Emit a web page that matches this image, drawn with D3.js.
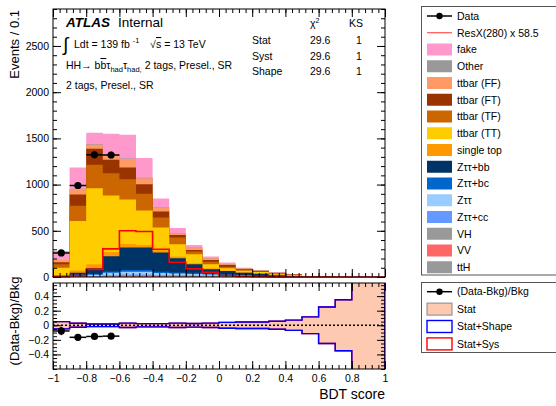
<!DOCTYPE html>
<html>
<head>
<meta charset="utf-8">
<script src="https://cdn.jsdelivr.net/npm/d3@7"></script>
<style>
body { margin: 0; background: #fff; }
svg { font-family: "Liberation Sans", Arial, Helvetica, sans-serif; }
</style>
</head>
<body>
<svg id="chart" width="556" height="406"></svg>
<script>
// bins of BDT score
const binLo = [-1, -0.9, -0.8, -0.7, -0.6, -0.5, -0.4, -0.3, -0.2, -0.1, 0, 0.1, 0.2, 0.3, 0.4, 0.5, 0.6, 0.7, 0.8, 0.9];
const binHi = [-0.9, -0.8, -0.7, -0.6, -0.5, -0.4, -0.3, -0.2, -0.1, 0, 0.1, 0.2, 0.3, 0.4, 0.5, 0.6, 0.7, 0.8, 0.9, 1];

// background components (events / bin)
const fake  = [97, 230, 125, 221, 258, 215, 95, 52, 27, 17, 16, 8, 3, 6, 2, 0.5, 0.5, 0, 0, 0];
const other = [2, 4, 7, 5, 5, 4, 3, 3, 2, 1, 2, 2, 4, 3, 2, 0.5, 0, 0, 0, 0];
const ttFF  = [24, 58, 43, 55, 91, 65, 43, 20, 25, 18, 8, 6, 4, 8, 3, 0.5, 0, 0, 0, 0];
const ttFT  = [21, 122, 172, 146, 128, 104, 65, 27, 18, 19, 18, 9, 5, 3, 2, 0.5, 0, 0, 0, 0];
const ttTF  = [37, 165, 255, 241, 219, 180, 108, 72, 29, 29, 18, 8, 6, 4, 4, 1, 0.5, 0.3, 0, 0];
const ttTT  = [79, 536, 823, 613, 481, 373, 246, 134, 98, 43, 25, 17, 16, 9, 9, 2, 1, 0.5, 0, 0];
const stop  = [8, 25, 43, 45, 40, 29, 24, 18, 11, 11, 5, 4, 3, 2, 2, 0.5, 0, 0, 0, 0];
const zbb   = [5, 20, 60, 165, 242, 242, 208, 153, 92, 45, 35, 25, 21, 10, 5, 0.5, 0.5, 0.2, 0, 0];
const zbc   = [2, 6, 10, 15, 20, 20, 16, 13, 12, 10, 7, 5, 3, 2, 1, 0, 0, 0, 0, 0];
const ztt   = [3, 10, 13, 25, 30, 30, 22, 19, 17, 14, 11, 8, 5, 3, 1, 0, 0, 0, 0, 0];
const zcc   = [2, 5, 6, 12, 15, 15, 10, 9, 8, 7, 5, 4, 2, 2, 1, 0, 0, 0, 0, 0];
const vh    = [0.5, 1, 1, 2, 3, 3, 3, 3, 2, 2, 2, 2, 1, 1, 0.5, 0, 0, 0, 0, 0];
const vv    = [1, 2, 2, 3, 4, 4, 4, 3, 3, 3, 2, 2, 2, 1, 0.5, 0, 0, 0, 0, 0];
const tth   = [0.5, 2, 2, 3, 4, 4, 3, 3, 3, 2, 2, 1, 1, 0, 0, 0, 0, 0, 0, 0];

// signal ResX(280) x 58.5
const signal = [3, 15, 83, 304, 500, 493, 300, 160, 88, 52, 16, 7, 3, 1, 0.5, 0, 0, 0, 0, 0];

// data (blinded beyond -0.6)
const dataBins = [0, 1, 2, 3];
const dataVals = [260, 990, 1322, 1320];

// relative uncertainty (half width) in ratio panel
const statUnc  = [0.05, 0.027, 0.018, 0.018, 0.03, 0.022, 0.022, 0.03, 0.025, 0.03, 0.04, 0.045, 0.045, 0.055, 0.07, 0.115, 0.25, 0.35, 5, 5];
const shapeUnc = [0.05, 0.027, 0.018, 0.018, 0.03, 0.022, 0.022, 0.03, 0.025, 0.03, 0.04, 0.045, 0.045, 0.055, 0.07, 0.115, 0.25, 0.35, 5, 5];
const sysUnc   = [0.05, 0.027, 0.018, 0.018, 0.03, 0.022, 0.022, 0.03, 0.025, 0.03, 0.04, 0.045, 0.045, 0.055, 0.07, 0.115, 0.25, 0.35, 5, 5];

// tick labels
const xLabels = [-1, -0.8, -0.6, -0.4, -0.2, 0, 0.2, 0.4, 0.6, 0.8, 1];
const yTopLabels = [0, 500, 1000, 1500, 2000, 2500];
const yLowLabels = [-0.4, -0.2, 0, 0.2, 0.4];

const legendNames = ["fake", "Other", "ttbar (FF)", "ttbar (FT)", "ttbar (TF)", "ttbar (TT)", "single top",
  "Z\u03c4\u03c4+bb", "Z\u03c4\u03c4+bc", "Z\u03c4\u03c4", "Z\u03c4\u03c4+cc", "VH", "VV", "ttH"];
const legendKeys = ["fake", "other", "ttFF", "ttFT", "ttTF", "ttTT", "stop", "zbb", "zbc", "ztt", "zcc", "vh", "vv", "tth"];

const series = { fake, other, ttFF, ttFT, ttTF, ttTT, stop, zbb, zbc, ztt, zcc, vh, vv, tth };
const colors = {
  fake: "#ff99cc", other: "#999999", ttFF: "#ff9966", ttFT: "#993300", ttTF: "#cc6600", ttTT: "#ffcc00",
  stop: "#ff9900", zbb: "#003366", zbc: "#0066cc", ztt: "#99ccff", zcc: "#6699ff", vh: "#999999",
  vv: "#ff6666", tth: "#999999"
};

const svg = d3.select("#chart");
const x = d3.scaleLinear().domain([-1, 1]).range([53, 385]);
const yTop = d3.scaleLinear().domain([0, 2900]).range([277, 9]);
const yLow = d3.scaleLinear().domain([-0.6, 0.58]).range([369, 283]);

// stack: bottom first
const stackKeys = legendKeys.slice().reverse();
const rows = binLo.map((lo, i) => {
  const r = {};
  stackKeys.forEach(k => r[k] = series[k][i]);
  return r;
});
const stacked = d3.stack().keys(stackKeys)(rows);

function stepPts(vals) {
  const pts = [];
  vals.forEach((v, i) => { pts.push([binLo[i], v]); pts.push([binHi[i], v]); });
  return pts;
}

const gTop = svg.append("g");
// draw top layer first, each from baseline to its cumulative top
stacked.slice().reverse().forEach(layer => {
  const tops = layer.map(d => d[1]);
  const area = d3.area()
    .x(p => x(p[0]))
    .y0(yTop(0))
    .y1(p => yTop(p[1]));
  gTop.append("path").attr("d", area(stepPts(tops))).attr("fill", colors[layer.key]);
});

// signal line
const sigPts = [[-1, 0]].concat(stepPts(signal), [[1, 0]]);
gTop.append("path")
  .attr("d", d3.line().x(p => x(p[0])).y(p => yTop(p[1]))(sigPts))
  .attr("fill", "none").attr("stroke", "#ff0000").attr("stroke-width", 1.6);

// data
const bkgTotal = binLo.map((lo, i) => legendKeys.reduce((s, k) => s + series[k][i], 0));
dataBins.forEach((b, j) => {
  const v = dataVals[j], e = Math.sqrt(v);
  const cx = x((binLo[b] + binHi[b]) / 2);
  gTop.append("line").attr("x1", x(binLo[b])).attr("x2", x(binHi[b])).attr("y1", yTop(v)).attr("y2", yTop(v))
    .attr("stroke", "#000").attr("stroke-width", 1.5);
  gTop.append("line").attr("x1", cx).attr("x2", cx).attr("y1", yTop(v - e)).attr("y2", yTop(v + e))
    .attr("stroke", "#000").attr("stroke-width", 1.5);
  gTop.append("circle").attr("cx", cx).attr("cy", yTop(v)).attr("r", 3.6).attr("fill", "#000");
});

// ratio panel
svg.append("clipPath").attr("id", "lowClip").append("rect")
  .attr("x", 53).attr("y", 283).attr("width", 332).attr("height", 86);
const gLow = svg.append("g").attr("clip-path", "url(#lowClip)");
function bandArea(unc) {
  const pts = stepPts(unc);
  return d3.area().x(p => x(p[0])).y0(p => yLow(-p[1])).y1(p => yLow(p[1]))(pts);
}
gLow.append("path").attr("d", bandArea(statUnc)).attr("fill", "#fdc9b1");
gLow.append("path").attr("d", bandArea(sysUnc)).attr("fill", "none").attr("stroke", "#ff0000").attr("stroke-width", 1.4);
gLow.append("path").attr("d", bandArea(shapeUnc)).attr("fill", "none").attr("stroke", "#0000ff").attr("stroke-width", 1.4);
gLow.append("line").attr("x1", 53).attr("x2", 385).attr("y1", yLow(0)).attr("y2", yLow(0))
  .attr("stroke", "#000").attr("stroke-width", 1.3).attr("stroke-dasharray", "2,2");
dataBins.forEach((b, j) => {
  const v = dataVals[j];
  const r = v / bkgTotal[b] - 1, e = Math.sqrt(v) / bkgTotal[b];
  const cx = x((binLo[b] + binHi[b]) / 2);
  gLow.append("line").attr("x1", x(binLo[b])).attr("x2", x(binHi[b])).attr("y1", yLow(r)).attr("y2", yLow(r))
    .attr("stroke", "#000").attr("stroke-width", 1.5);
  gLow.append("line").attr("x1", cx).attr("x2", cx).attr("y1", yLow(r - e)).attr("y2", yLow(r + e))
    .attr("stroke", "#000").attr("stroke-width", 1.5);
  gLow.append("circle").attr("cx", cx).attr("cy", yLow(r)).attr("r", 3.6).attr("fill", "#000");
});

// axes
const fmt = d => String(Math.round(d * 10) / 10).replace("-", "\u2212");
const xMinor = d3.range(-1, 1.0001, 0.04);
function frameAxes(yScale, yMajor, yMinor, top, bottom, withXLabels, yFmt) {
  const g = svg.append("g");
  const add = (axis, tx, ty) => {
    const a = g.append("g").attr("transform", `translate(${tx},${ty})`).call(axis);
    a.select(".domain").remove();
    a.selectAll("line").attr("stroke", "#000");
    return a;
  };
  add(d3.axisLeft(yScale).tickValues(yMajor).tickSize(-8).tickPadding(4).tickFormat(yFmt), 53, 0)
    .selectAll("text").attr("font-size", 10.5).attr("fill", "#000").attr("font-family", "Liberation Sans, Arial, sans-serif");
  add(d3.axisLeft(yScale).tickValues(yMinor).tickSize(-4).tickFormat(""), 53, 0);
  add(d3.axisRight(yScale).tickValues(yMajor).tickSize(-8).tickFormat(""), 385, 0);
  add(d3.axisRight(yScale).tickValues(yMinor).tickSize(-4).tickFormat(""), 385, 0);
  const bx = add(d3.axisBottom(x).tickValues(xLabels).tickSize(-8).tickPadding(6).tickFormat(withXLabels ? fmt : ""), 0, bottom);
  bx.selectAll("text").attr("font-size", 10.5).attr("fill", "#000").attr("font-family", "Liberation Sans, Arial, sans-serif");
  add(d3.axisBottom(x).tickValues(xMinor).tickSize(-4).tickFormat(""), 0, bottom);
  add(d3.axisTop(x).tickValues(xLabels).tickSize(-8).tickFormat(""), 0, top);
  add(d3.axisTop(x).tickValues(xMinor).tickSize(-4).tickFormat(""), 0, top);
  g.append("rect").attr("x", 53).attr("y", top).attr("width", 332).attr("height", bottom - top)
    .attr("fill", "none").attr("stroke", "#000").attr("stroke-width", 1);
}
frameAxes(yTop, yTopLabels, d3.range(0, 2901, 100), 9, 277, false, d3.format("d"));
frameAxes(yLow, yLowLabels, d3.range(-0.6, 0.5801, 0.05), 283, 369, true, fmt);

// axis titles
svg.append("text").attr("transform", "translate(19,10) rotate(-90)").attr("text-anchor", "end")
  .attr("font-size", 13).text("Events / 0.1");
svg.append("text").attr("transform", "translate(19,321) rotate(-90)").attr("text-anchor", "middle")
  .attr("font-size", 13).text("(Data-Bkg)/Bkg");
svg.append("text").attr("x", 385).attr("y", 399).attr("text-anchor", "end")
  .attr("font-size", 14).text("BDT score");

// labels top-left
svg.append("text").attr("x", 66).attr("y", 27).attr("font-size", 13.5).attr("font-weight", "bold")
  .attr("font-style", "italic").text("ATLAS");
svg.append("text").attr("x", 118).attr("y", 27).attr("font-size", 13.5).text("Internal");
svg.append("text").attr("x", 63).attr("y", 51).attr("font-size", 19).text("\u222b");
const lum = svg.append("text").attr("x", 74).attr("y", 48).attr("font-size", 10.5);
lum.append("tspan").text("Ldt = 139 fb");
lum.append("tspan").attr("dx", 3).attr("dy", -5).attr("font-size", 7.5).text("-1");
svg.append("text").attr("x", 150).attr("y", 48).attr("font-size", 10.5).text("\u221a");
const rs = svg.append("text").attr("x", 156).attr("y", 48).attr("font-size", 10.5);
rs.append("tspan").attr("text-decoration", "overline").text("s");
rs.append("tspan").text(" = 13 TeV");
const hh = svg.append("text").attr("x", 66).attr("y", 69).attr("font-size", 10.5);
hh.append("tspan").text("HH\u2192 b");
hh.append("tspan").attr("text-decoration", "overline").text("b");
hh.append("tspan").text("\u03c4");
hh.append("tspan").attr("dy", 3).attr("font-size", 7.5).text("had");
hh.append("tspan").attr("dy", -3).text("\u03c4");
hh.append("tspan").attr("dy", 3).attr("font-size", 7.5).text("had,");
hh.append("tspan").attr("dy", -3).text(" 2 tags, Presel., SR");
svg.append("text").attr("x", 66).attr("y", 89).attr("font-size", 10.5).text("2 tags, Presel., SR");

// chi2 / KS table
const chi = svg.append("text").attr("x", 310).attr("y", 27).attr("font-size", 10.5);
chi.append("tspan").text("\u03c7");
chi.append("tspan").attr("dy", -4).attr("font-size", 7).text("2");
svg.append("text").attr("x", 349).attr("y", 27).attr("font-size", 10.5).text("KS");
const tblNames = ["Stat", "Syst", "Shape"];
const tblChi2 = ["29.6", "29.6", "29.6"];
const tblKS = ["1", "1", "1"];
tblNames.forEach((n, i) => {
  const yy = 44 + i * 15.5;
  svg.append("text").attr("x", 252).attr("y", yy).attr("font-size", 10.5).text(n);
  svg.append("text").attr("x", 310).attr("y", yy).attr("font-size", 10.5).text(tblChi2[i]);
  svg.append("text").attr("x", 356).attr("y", yy).attr("font-size", 10.5).text(tblKS[i]);
});

// legend (main)
const leg = svg.append("g");
leg.append("rect").attr("x", 421.5).attr("y", 6.5).attr("width", 150).attr("height", 268.5)
  .attr("fill", "#fff").attr("stroke", "#555").attr("stroke-width", 1);
const ly = i => 16 + 16.75 * i;
function legText(yy, t) {
  leg.append("text").attr("x", 457).attr("y", yy).attr("dy", "0.36em").attr("font-size", 10.5).text(t);
}
leg.append("line").attr("x1", 427).attr("x2", 452).attr("y1", ly(0)).attr("y2", ly(0)).attr("stroke", "#000").attr("stroke-width", 1.5);
leg.append("circle").attr("cx", 439.5).attr("cy", ly(0)).attr("r", 3.2).attr("fill", "#000");
legText(ly(0), "Data");
leg.append("line").attr("x1", 427).attr("x2", 452).attr("y1", ly(1)).attr("y2", ly(1)).attr("stroke", "#ff3333").attr("stroke-width", 1);
legText(ly(1), "ResX(280) x 58.5");
legendKeys.forEach((k, i) => {
  const yy = ly(i + 2);
  leg.append("rect").attr("x", 427).attr("y", yy - 6).attr("width", 25).attr("height", 12).attr("fill", colors[k]);
  legText(yy, legendNames[i]);
});

// legend (ratio)
leg.append("rect").attr("x", 421.5).attr("y", 282.5).attr("width", 150).attr("height", 70)
  .attr("fill", "#fff").attr("stroke", "#555").attr("stroke-width", 1);
const ry = i => 291.7 + 17.4 * i;
leg.append("line").attr("x1", 427).attr("x2", 452).attr("y1", ry(0)).attr("y2", ry(0)).attr("stroke", "#000").attr("stroke-width", 1.5);
leg.append("circle").attr("cx", 439.5).attr("cy", ry(0)).attr("r", 3.2).attr("fill", "#000");
legText(ry(0), "(Data-Bkg)/Bkg");
leg.append("rect").attr("x", 427).attr("y", ry(1) - 6).attr("width", 25).attr("height", 12)
  .attr("fill", "#fdc9b1").attr("stroke", "#888").attr("stroke-width", 1);
legText(ry(1), "Stat");
leg.append("rect").attr("x", 427).attr("y", ry(2) - 6).attr("width", 25).attr("height", 12)
  .attr("fill", "#fff").attr("stroke", "#0000ff").attr("stroke-width", 1.4);
legText(ry(2), "Stat+Shape");
leg.append("rect").attr("x", 427).attr("y", ry(3) - 6).attr("width", 25).attr("height", 12)
  .attr("fill", "#fff").attr("stroke", "#ff0000").attr("stroke-width", 1.4);
legText(ry(3), "Stat+Sys");
</script>
</body>
</html>
